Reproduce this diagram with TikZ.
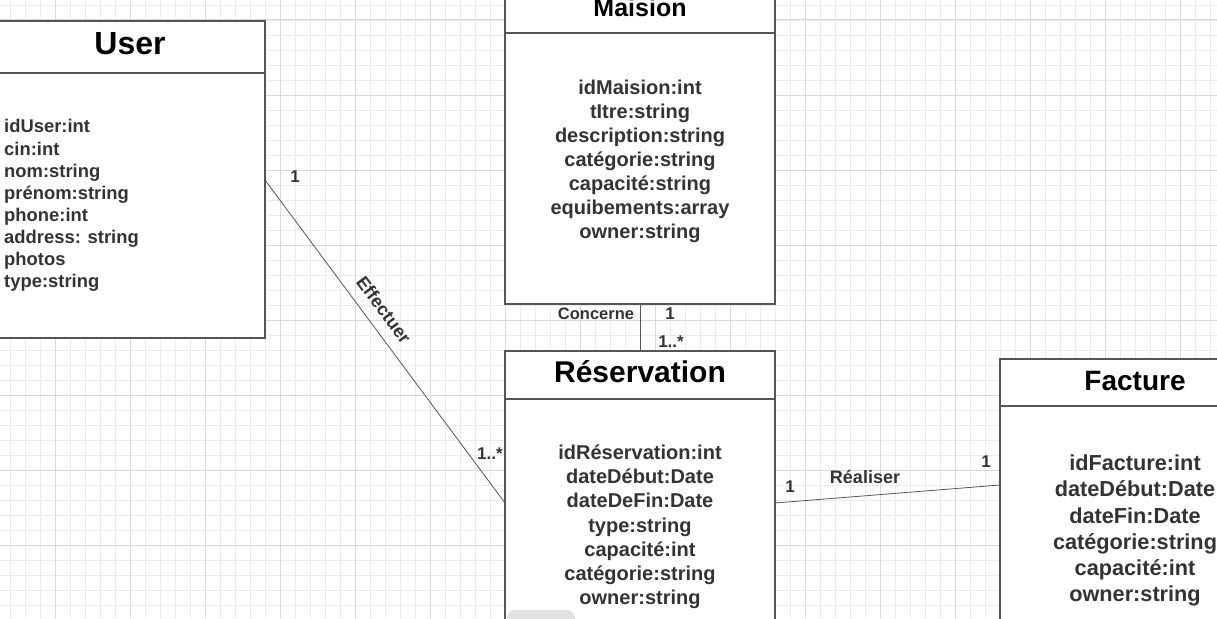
\documentclass[tikz,border=0pt]{standalone}
\usepackage{fontspec}
\setmainfont{Liberation Sans}
\usepackage{tikz}
\usetikzlibrary{positioning}
\definecolor{boxline}{HTML}{555555}
\definecolor{txtgray}{HTML}{333333}
\definecolor{gridminor}{HTML}{EBEBEB}
\definecolor{gridmajor}{HTML}{D9D9D9}
\definecolor{tabgray}{HTML}{E2E2E2}
\tikzstyle{classhead} = [rectangle, draw=boxline, line width=1.5pt, fill=white, outer sep=0pt, inner sep=0pt, minimum width=270pt, text height=22pt, text depth=7pt, text=black]
\tikzstyle{classbody} = [rectangle, draw=boxline, line width=1.5pt, fill=white, outer sep=0pt, minimum width=270pt]
\tikzstyle{attr} = [inner sep=0pt, align=center, text=txtgray]
\tikzstyle{assoc} = [draw=boxline, line width=0.8pt]
\tikzstyle{lbl} = [inner sep=2pt, text=txtgray]
\tikzstyle{mult} = [inner sep=0pt, text=txtgray, font=\Fsz{17}{20}]
\newcommand{\Fsz}[2]{\fontsize{#1}{#2}\selectfont\bfseries}

\begin{document}
\begin{tikzpicture}[x=1pt, y=-1pt]
	\useasboundingbox (0,0) rectangle (1217,618);
	\clip (0,0) rectangle (1217,618);
	% grid paper
	\foreach \gx in {10,25,...,1215} \draw[gridminor, line width=0.8pt] (\gx,0) -- (\gx,618);
	\foreach \gy in {5,20,...,620} \draw[gridminor, line width=0.8pt] (0,\gy) -- (1217,\gy);
	\foreach \gx in {55,130,...,1215} \draw[gridmajor, line width=1pt] (\gx,0) -- (\gx,618);
	\foreach \gy in {20,95,...,620} \draw[gridmajor, line width=1pt] (0,\gy) -- (1217,\gy);

	% classes
	\node[classhead, font=\Fsz{32}{38}, minimum height=52pt] (userhead) at (130,47) {User};
	\node[classbody, minimum height=265pt, below=0pt of userhead] (userbody) {};
	\node[attr, align=left, font=\Fsz{18.4}{22.1}, below right=46.4pt and 9pt of userhead.south west] (userattr) {idUser:int\\cin:int\\nom:string\\prénom:string\\phone:int\\address: string\\photos\\type:string};

	\node[classhead, font=\Fsz{25}{30}, minimum height=48pt] (maishead) at (640,9) {Maision};
	\node[classbody, minimum height=271pt, below=0pt of maishead] (maisbody) {};
	\node[attr, font=\Fsz{20}{24}, below=46.6pt of maishead] (maisattr) {idMaision:int\\tItre:string\\description:string\\catégorie:string\\capacité:string\\equibements:array\\owner:string};

	\node[classhead, font=\Fsz{30}{36}, minimum height=48pt, below=47pt of maisbody] (reshead) {Réservation};
	\node[classbody, minimum height=256pt, below=0pt of reshead] (resbody) {};
	\node[attr, font=\Fsz{20}{24.2}, below=45.6pt of reshead] (resattr) {idRéservation:int\\dateDébut:Date\\dateDeFin:Date\\type:string\\capacité:int\\catégorie:string\\owner:string};

	\node[classhead, font=\Fsz{28}{34}, minimum height=47pt, right=225pt of reshead, yshift=-7.5pt] (facthead) {Facture};
	\node[classbody, minimum height=245pt, below=0pt of facthead] (factbody) {};
	\node[attr, font=\Fsz{21.7}{26.2}, below=48.8pt of facthead] (factattr) {idFacture:int\\dateDébut:Date\\dateFin:Date\\catégorie:string\\capacité:int\\owner:string};

	% associations
	\draw[assoc] ([yshift=25.5pt]userbody.east) -- node[lbl, font=\Fsz{18}{21}, sloped, above=9pt, pos=0.435] (effl) {Effectuer} node[mult, pos=0, xshift=30pt, yshift=3pt] (effm1) {1} node[mult, pos=1, xshift=-15pt, yshift=49pt] (effm2) {1..*} ([yshift=24pt]resbody.west);
	\draw[assoc] (maisbody.south) -- node[lbl, font=\Fsz{16.5}{19}, pos=0, xshift=-44pt, yshift=-10pt] (concl) {Concerne} node[mult, pos=0, xshift=30pt, yshift=-10pt] (concm1) {1} node[mult, pos=1, xshift=31pt, yshift=9pt] (concm2) {1..*} (reshead.north);
	\draw[assoc] ([yshift=24pt]resbody.east) -- node[lbl, font=\Fsz{18}{21}, pos=0, xshift=90pt, yshift=26pt] (reall) {Réaliser} node[mult, pos=0, xshift=15pt, yshift=16pt] (realm1) {1} node[mult, pos=1, xshift=-14pt, yshift=23pt] (realm2) {1} ([yshift=43.5pt]factbody.west);

	% grey tab at the bottom edge
	\fill[tabgray, rounded corners=8pt] (507,610) rectangle (575,632);
\end{tikzpicture}
\end{document}
